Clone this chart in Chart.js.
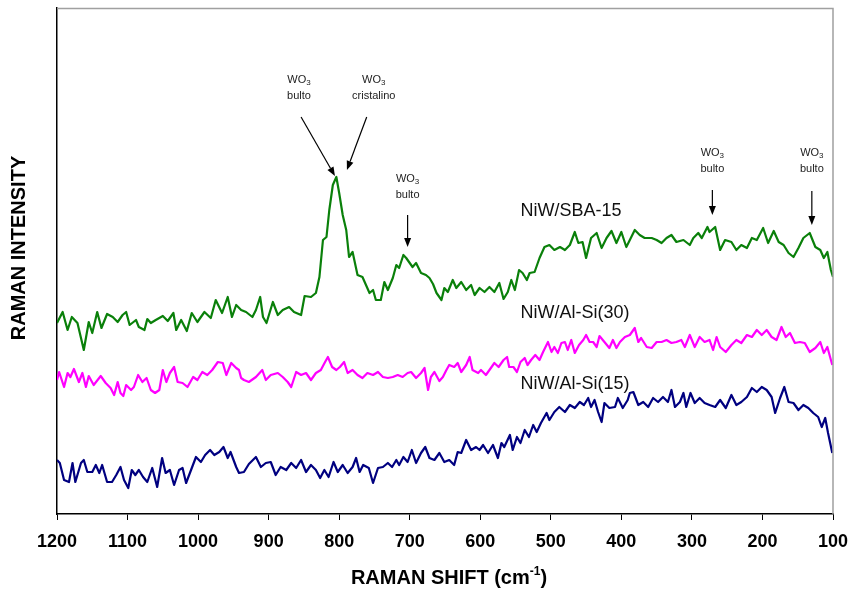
<!DOCTYPE html>
<html>
<head>
<meta charset="utf-8">
<script src="https://cdn.jsdelivr.net/npm/chart.js@4.4.0/dist/chart.umd.min.js"></script>
<style>
  html, body { margin: 0; padding: 0; background: #fff; }
  canvas { display: block; }
</style>
</head>
<body>
<canvas id="ramanChart" width="849" height="590"></canvas>
<script>
// NiW/SBA-15 (verde)
const sbaShift = [1200,1192,1185,1179,1171,1162,1155,1150,1143,1137,1129,1121,1114,1107,1102,1097,1088,1084,1076,1072,1067,1060,1050,1043,1035,1031,1024,1016,1009,1001,991,982,975,966,958,952,946,939,932,923,918,912,908,903,894,887,880,871,864,854,849,840,833,828,823,818,814,809,804,800,795,790,786,781,774,767,757,752,748,741,736,731,724,719,715,709,705,700,696,691,684,677,672,667,662,655,651,646,639,634,627,620,613,608,601,594,587,580,573,567,561,556,551,545,540,534,530,523,516,509,502,495,487,480,473,466,461,455,450,443,435,428,421,414,407,400,393,388,381,374,367,357,350,343,336,329,322,312,303,298,291,286,278,275,267,260,253,244,237,230,222,215,208,199,192,184,177,170,163,156,149,142,133,125,118,113,108,103,100];
const sbaInt = [191,202,184,197,191,164,192,181,202,186,200,197,192,199,202,189,194,187,184,195,191,194,198,193,201,184,194,183,201,192,202,196,214,201,217,197,209,204,202,197,204,217,197,191,212,199,204,207,202,199,218,217,221,237,274,277,304,329,337,321,299,284,257,262,239,237,221,224,214,214,232,224,236,249,246,259,256,251,247,251,241,239,236,230,221,214,226,222,234,226,232,224,229,219,226,222,227,222,231,215,222,234,224,244,241,234,241,242,256,267,269,264,267,264,269,282,271,272,256,276,281,266,276,283,271,282,267,274,284,279,276,276,274,271,276,279,272,274,269,276,281,276,287,282,287,264,274,272,264,269,266,276,274,286,271,283,272,269,261,257,266,276,281,267,264,256,262,244,237];

// NiW/Al-Si(30) (magenta)
const al30Shift = [1200,1197,1190,1185,1181,1176,1169,1164,1159,1155,1148,1138,1131,1124,1119,1114,1110,1106,1102,1095,1091,1085,1079,1073,1067,1061,1055,1050,1045,1040,1034,1029,1022,1015,1007,1001,994,987,980,972,965,960,953,946,942,939,935,928,918,909,904,897,887,880,873,868,861,854,847,840,833,826,820,816,810,804,799,793,788,781,774,767,760,752,745,738,731,724,717,710,703,698,691,684,679,674,670,665,658,653,648,644,637,632,627,620,615,611,603,599,592,587,580,574,567,562,559,553,548,543,537,533,528,522,516,511,504,499,495,490,485,480,476,471,466,460,454,450,445,440,435,431,424,417,412,407,402,395,388,381,376,372,364,357,350,343,336,329,322,315,310,303,296,289,282,275,270,265,260,252,244,237,230,222,215,208,201,194,187,180,173,167,161,154,147,140,133,125,118,113,108,101];
const al30Int = [134,142,127,141,137,145,132,141,127,138,129,138,131,126,119,132,121,118,129,124,127,139,132,136,124,121,124,144,132,141,147,132,131,127,137,134,142,139,144,152,151,139,151,146,144,136,134,132,137,144,134,139,141,137,132,127,142,139,141,134,141,144,152,157,147,144,147,152,141,144,139,136,141,139,142,137,136,137,139,137,141,142,136,141,146,124,137,142,133,137,144,149,147,151,142,149,157,144,141,144,139,144,151,147,154,157,147,147,142,152,156,149,154,159,154,162,172,162,167,161,171,172,164,174,161,169,174,179,172,172,167,178,172,166,174,166,172,177,179,186,172,176,167,166,172,172,174,171,172,174,167,179,167,177,172,174,164,177,167,162,169,174,171,179,177,184,179,184,177,174,187,177,181,171,172,171,162,166,172,161,167,149];

// NiW/Al-Si(15) (azul marino)
const al15Shift = [1200,1196,1190,1183,1178,1174,1166,1162,1157,1150,1145,1140,1136,1129,1122,1116,1110,1105,1099,1094,1089,1084,1078,1072,1065,1058,1051,1046,1040,1034,1027,1022,1017,1010,1003,996,990,983,977,970,964,958,954,946,942,935,928,918,911,904,897,890,883,875,868,861,854,847,840,833,827,821,815,808,802,795,788,781,776,771,766,758,752,745,738,731,725,719,715,709,703,697,691,684,678,672,665,658,651,644,637,632,627,620,613,606,601,596,589,582,575,570,566,558,554,548,543,537,531,525,520,514,506,502,495,488,480,473,466,459,453,447,443,438,433,428,424,417,409,405,398,391,388,383,376,369,362,355,348,341,334,329,324,317,312,308,302,296,289,282,275,267,260,252,244,237,230,222,215,208,201,194,187,182,175,169,163,156,149,142,135,128,121,116,111,107,101];
const al15Int = [54,51,34,32,51,32,51,54,42,42,49,41,49,32,32,39,47,34,26,44,39,44,37,32,46,27,56,41,44,29,44,46,31,44,57,52,59,64,59,62,67,56,62,47,41,42,50,57,47,51,52,39,47,44,51,46,54,42,49,44,36,44,37,52,42,49,41,47,56,42,49,46,31,46,47,51,47,54,49,57,52,64,51,61,67,56,54,61,52,54,49,62,61,74,64,67,64,69,61,69,56,71,67,79,64,77,71,84,77,89,82,91,101,94,102,107,102,109,106,112,109,116,107,114,102,92,111,106,107,116,106,114,121,122,109,112,107,116,112,117,112,124,107,112,121,107,121,111,116,111,109,107,114,106,119,109,112,117,126,122,127,124,117,101,116,127,112,111,104,109,106,101,97,87,96,81,61];

// Eje X
const xTicks = [1200,1100,1000,900,800,700,600,500,400,300,200,100];
const xTitle = "RAMAN SHIFT (cm";
const xTitleSup = "-1";
const yTitle = "RAMAN INTENSITY";

// Etiquetas de las curvas: [texto, shift, intensidad]
const seriesLabels = [
  ["NiW/SBA-15", 543, 298],
  ["NiW/Al-Si(30)", 543, 196],
  ["NiW/Al-Si(15)", 543, 125],
];

// Anotaciones WO3: texto de abajo, posicion del texto, flecha desde -> hasta
const notes = [
  { sub: "bulto", x: 857, y: 434, from: [854, 397], to: [806, 338] },
  { sub: "cristalino", x: 751, y: 434, from: [761, 397], to: [789, 344] },
  { sub: "bulto", x: 703, y: 335, from: [703, 299], to: [703, 267] },
  { sub: "bulto", x: 271, y: 361, from: [271, 324], to: [271, 299] },
  { sub: "bulto", x: 130, y: 361, from: [130, 323], to: [130, 289] },
];

const FONT = "'Liberation Sans', Arial, sans-serif";

const toPoints = (xs, ys) => xs.map((x, i) => ({ x: x, y: ys[i] }));

const drawArrow = (ctx, x1, y1, x2, y2) => {
  const ang = Math.atan2(y2 - y1, x2 - x1);
  const head = 9;
  const half = 3.5;
  const bx = x2 - head * Math.cos(ang);
  const by = y2 - head * Math.sin(ang);
  ctx.beginPath();
  ctx.moveTo(x1, y1);
  ctx.lineTo(bx, by);
  ctx.stroke();
  ctx.beginPath();
  ctx.moveTo(x2, y2);
  ctx.lineTo(bx + half * Math.sin(ang), by - half * Math.cos(ang));
  ctx.lineTo(bx - half * Math.sin(ang), by + half * Math.cos(ang));
  ctx.closePath();
  ctx.fill();
};

const extrasPlugin = {
  id: "extras",
  beforeDraw(chart) {
    const ctx = chart.ctx;
    ctx.save();
    ctx.fillStyle = "#fff";
    ctx.fillRect(0, 0, chart.width, chart.height);
    ctx.restore();
  },
  afterDraw(chart) {
    const ctx = chart.ctx;
    const xs = chart.scales.x;
    const ys = chart.scales.y;
    const a = chart.chartArea;
    ctx.save();

    // marco gris arriba y a la derecha
    ctx.strokeStyle = "#a0a0a0";
    ctx.lineWidth = 1.5;
    ctx.beginPath();
    ctx.moveTo(a.left, a.top + 0.5);
    ctx.lineTo(a.right, a.top + 0.5);
    ctx.lineTo(a.right, a.bottom);
    ctx.stroke();

    // etiquetas de las series
    ctx.fillStyle = "#111";
    ctx.font = "18px " + FONT;
    ctx.textAlign = "left";
    ctx.textBaseline = "alphabetic";
    seriesLabels.forEach(([txt, sx, sy]) => {
      ctx.fillText(txt, xs.getPixelForValue(sx), ys.getPixelForValue(sy));
    });

    // anotaciones WO3
    notes.forEach((n) => {
      const cx = xs.getPixelForValue(n.x);
      const cy = ys.getPixelForValue(n.y);
      ctx.fillStyle = "#222";
      ctx.textBaseline = "middle";
      ctx.font = "11px " + FONT;
      const w1 = ctx.measureText("WO").width;
      ctx.font = "8px " + FONT;
      const w2 = ctx.measureText("3").width;
      const left = cx - (w1 + w2) / 2;
      ctx.textAlign = "left";
      ctx.font = "11px " + FONT;
      ctx.fillText("WO", left, cy);
      ctx.font = "8px " + FONT;
      ctx.fillText("3", left + w1, cy + 3);
      ctx.font = "11px " + FONT;
      ctx.textAlign = "center";
      ctx.fillText(n.sub, cx, cy + 16);
      ctx.strokeStyle = "#000";
      ctx.fillStyle = "#000";
      ctx.lineWidth = 1.2;
      drawArrow(
        ctx,
        xs.getPixelForValue(n.from[0]), ys.getPixelForValue(n.from[1]),
        xs.getPixelForValue(n.to[0]), ys.getPixelForValue(n.to[1])
      );
    });

    // titulo eje X con superindice
    ctx.fillStyle = "#000";
    ctx.textAlign = "left";
    ctx.textBaseline = "alphabetic";
    ctx.font = "bold 20px " + FONT;
    const tw = ctx.measureText(xTitle).width;
    ctx.font = "bold 12px " + FONT;
    const sw = ctx.measureText(xTitleSup).width;
    ctx.font = "bold 20px " + FONT;
    const pw = ctx.measureText(")").width;
    const cxT = (a.left + a.right) / 2 + 4;
    let tx = cxT - (tw + sw + pw) / 2;
    const ty = 584;
    ctx.fillText(xTitle, tx, ty);
    ctx.font = "bold 12px " + FONT;
    ctx.fillText(xTitleSup, tx + tw, ty - 9);
    ctx.font = "bold 20px " + FONT;
    ctx.fillText(")", tx + tw + sw, ty);

    // titulo eje Y
    ctx.translate(19, (a.top + a.bottom) / 2 - 13);
    ctx.rotate(-Math.PI / 2);
    ctx.textAlign = "center";
    ctx.textBaseline = "middle";
    ctx.font = "bold 20px " + FONT;
    ctx.fillText(yTitle, 0, 0);
    ctx.restore();
  },
};

const ctx = document.getElementById("ramanChart").getContext("2d");
new Chart(ctx, {
  type: "line",
  data: {
    datasets: [
      {
        label: "NiW/SBA-15",
        data: toPoints(sbaShift, sbaInt),
        borderColor: "#0a800a",
        borderWidth: 2.2,
      },
      {
        label: "NiW/Al-Si(30)",
        data: toPoints(al30Shift, al30Int),
        borderColor: "#ff00ff",
        borderWidth: 2.2,
      },
      {
        label: "NiW/Al-Si(15)",
        data: toPoints(al15Shift, al15Int),
        borderColor: "#000080",
        borderWidth: 2.2,
      },
    ],
  },
  options: {
    responsive: false,
    animation: false,
    devicePixelRatio: 1,
    layout: { padding: { top: 8, right: 16, left: 0, bottom: 0 } },
    elements: {
      point: { radius: 0 },
      line: { tension: 0, fill: false, borderJoinStyle: "round" },
    },
    plugins: {
      legend: { display: false },
      tooltip: { enabled: false },
    },
    scales: {
      x: {
        type: "linear",
        reverse: true,
        min: 100,
        max: 1200,
        afterBuildTicks: (scale) => {
          scale.ticks = xTicks.map((v) => ({ value: v }));
        },
        afterFit: (scale) => {
          scale.height = 76;
          scale.paddingLeft = 0;
          scale.paddingRight = 0;
        },
        ticks: {
          color: "#000",
          font: { family: FONT, size: 18, weight: "bold" },
          padding: 11,
          maxRotation: 0,
          autoSkip: false,
          callback: (v) => String(v),
        },
        grid: {
          drawOnChartArea: false,
          drawTicks: true,
          tickLength: 6,
          color: "#000",
        },
        border: { color: "#000", width: 1.5 },
      },
      y: {
        min: 0,
        max: 506,
        afterFit: (scale) => {
          scale.width = 57;
        },
        ticks: { display: false },
        grid: { display: false, drawTicks: false },
        border: { display: true, color: "#000", width: 1.5 },
      },
    },
  },
  plugins: [extrasPlugin],
});
</script>
</body>
</html>
